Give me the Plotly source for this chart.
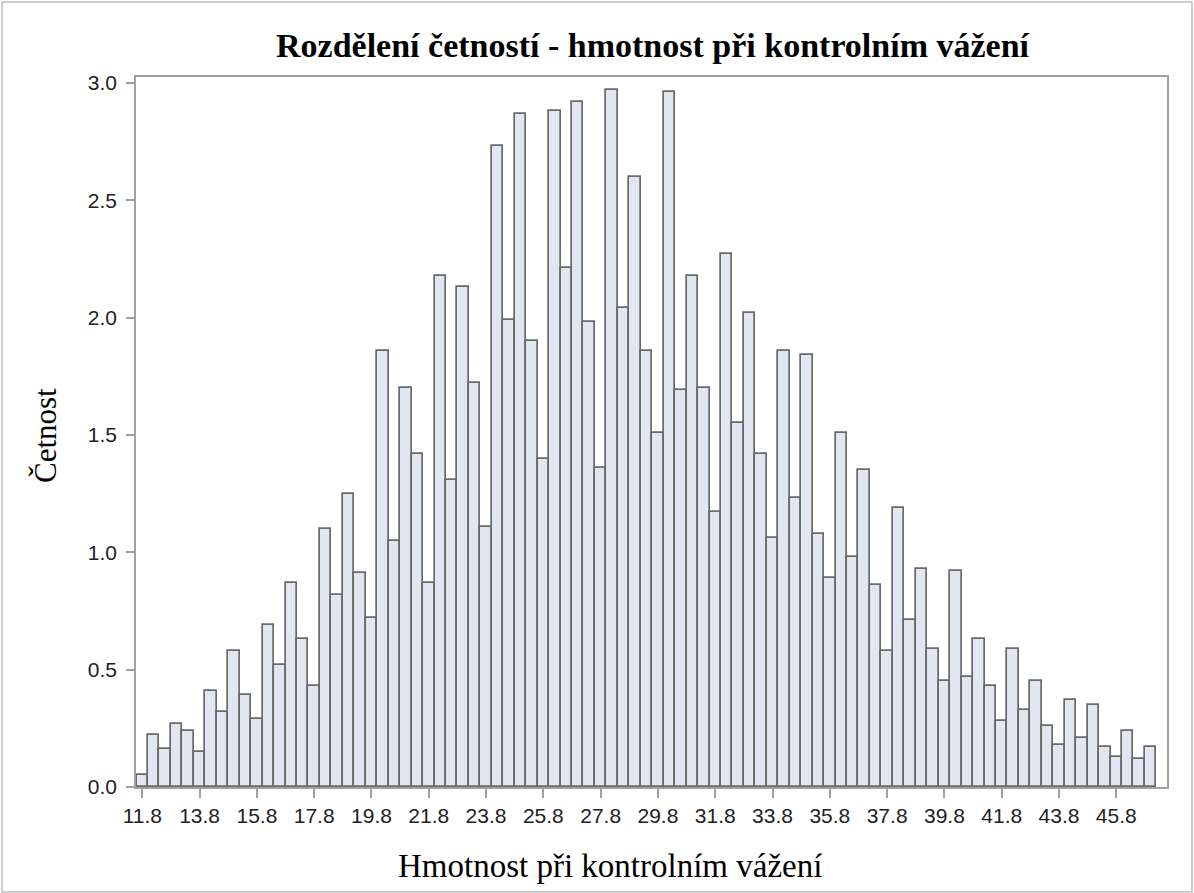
import plotly.graph_objects as go

# Histogram: bin width 0.4, first bin centred at 11.8
bin_start = 11.8
bin_width = 0.4
frequencies = [
    0.05, 0.22, 0.16, 0.27, 0.24, 0.15, 0.41, 0.32, 0.58, 0.39,
    0.29, 0.69, 0.52, 0.87, 0.63, 0.43, 1.10, 0.82, 1.25, 0.91,
    0.72, 1.86, 1.05, 1.70, 1.42, 0.87, 2.18, 1.31, 2.13, 1.72,
    1.11, 2.73, 1.99, 2.87, 1.90, 1.40, 2.88, 2.21, 2.92, 1.98,
    1.36, 2.97, 2.04, 2.60, 1.86, 1.51, 2.96, 1.69, 2.18, 1.70,
    1.17, 2.27, 1.55, 2.02, 1.42, 1.06, 1.86, 1.23, 1.84, 1.08,
    0.89, 1.51, 0.98, 1.35, 0.86, 0.58, 1.19, 0.71, 0.93, 0.59,
    0.45, 0.92, 0.47, 0.63, 0.43, 0.28, 0.59, 0.33, 0.45, 0.26,
    0.18, 0.37, 0.21, 0.35, 0.17, 0.13, 0.24, 0.12, 0.17,
]
bin_centers = [round(bin_start + bin_width * i, 1) for i in range(len(frequencies))]

x_tick_values = [11.8, 13.8, 15.8, 17.8, 19.8, 21.8, 23.8, 25.8, 27.8,
                 29.8, 31.8, 33.8, 35.8, 37.8, 39.8, 41.8, 43.8, 45.8]
x_tick_labels = ["11.8", "13.8", "15.8", "17.8", "19.8", "21.8", "23.8", "25.8", "27.8",
                 "29.8", "31.8", "33.8", "35.8", "37.8", "39.8", "41.8", "43.8", "45.8"]
y_tick_values = [0.0, 0.5, 1.0, 1.5, 2.0, 2.5, 3.0]

title_text = "Rozdělení četností - hmotnost při kontrolním vážení"
x_title = "Hmotnost při kontrolním vážení"
y_title = "Četnost"

W, H = 1194, 893
ML, MR, MT, MB = 136, 27, 77, 106
PW = W - ML - MR
PH = H - MT - MB


def px_to_paper_x(px):
    return (px - ML) / PW


def px_to_paper_y(py):
    return (H - MB - py) / PH


fig = go.Figure()
fig.add_trace(go.Bar(
    x=bin_centers,
    y=frequencies,
    width=bin_width,
    marker=dict(color="#E2E6F0", line=dict(color="#6A6A6A", width=1.7)),
    hoverinfo="x+y",
))

tick_font = dict(family="Liberation Sans, Arial, sans-serif", size=21, color="#222222")
serif = "Liberation Serif, Times New Roman, serif"

fig.update_layout(
    width=W, height=H,
    margin=dict(l=ML, r=MR, t=MT, b=MB, autoexpand=False),
    paper_bgcolor="white",
    plot_bgcolor="white",
    showlegend=False,
    bargap=0,
    xaxis=dict(
        range=[11.58, 47.57],
        tickmode="array",
        tickvals=x_tick_values,
        ticktext=x_tick_labels,
        ticks="outside", ticklen=9, tickcolor="#A0A0A0", tickwidth=1.5,
        showline=True, linecolor="#A0A0A0", linewidth=1.5, mirror=True,
        showgrid=False, zeroline=False,
        tickfont=tick_font,
    ),
    yaxis=dict(
        range=[0, 3.026],
        tickmode="array",
        tickvals=y_tick_values,
        tickformat=".1f",
        ticks="outside", ticklen=8, tickcolor="#A0A0A0", tickwidth=1.5,
        ticklabelstandoff=5,
        showline=True, linecolor="#A0A0A0", linewidth=1.5, mirror=True,
        showgrid=False, zeroline=False,
        tickfont=tick_font,
    ),
    annotations=[
        dict(text="<b>" + title_text + "</b>", xref="paper", yref="paper",
             x=px_to_paper_x(653), y=px_to_paper_y(45), showarrow=False,
             xanchor="center", yanchor="middle",
             font=dict(family=serif, size=34, color="black")),
        dict(text=x_title, xref="paper", yref="paper",
             x=px_to_paper_x(610), y=px_to_paper_y(866), showarrow=False,
             xanchor="center", yanchor="middle",
             font=dict(family=serif, size=33, color="black")),
        dict(text=y_title, xref="paper", yref="paper",
             x=px_to_paper_x(45), y=px_to_paper_y(436), showarrow=False,
             xanchor="center", yanchor="middle", textangle=-90,
             font=dict(family=serif, size=31, color="black")),
    ],
    shapes=[
        dict(type="rect", xref="paper", yref="paper",
             x0=px_to_paper_x(2), x1=px_to_paper_x(1192),
             y0=px_to_paper_y(892), y1=px_to_paper_y(2),
             line=dict(color="#BDBDBD", width=1.5), fillcolor="rgba(0,0,0,0)", layer="below"),
    ],
)

fig.write_html("out.html", config={"displayModeBar": False},
               post_script="document.body.style.margin='0px';")
